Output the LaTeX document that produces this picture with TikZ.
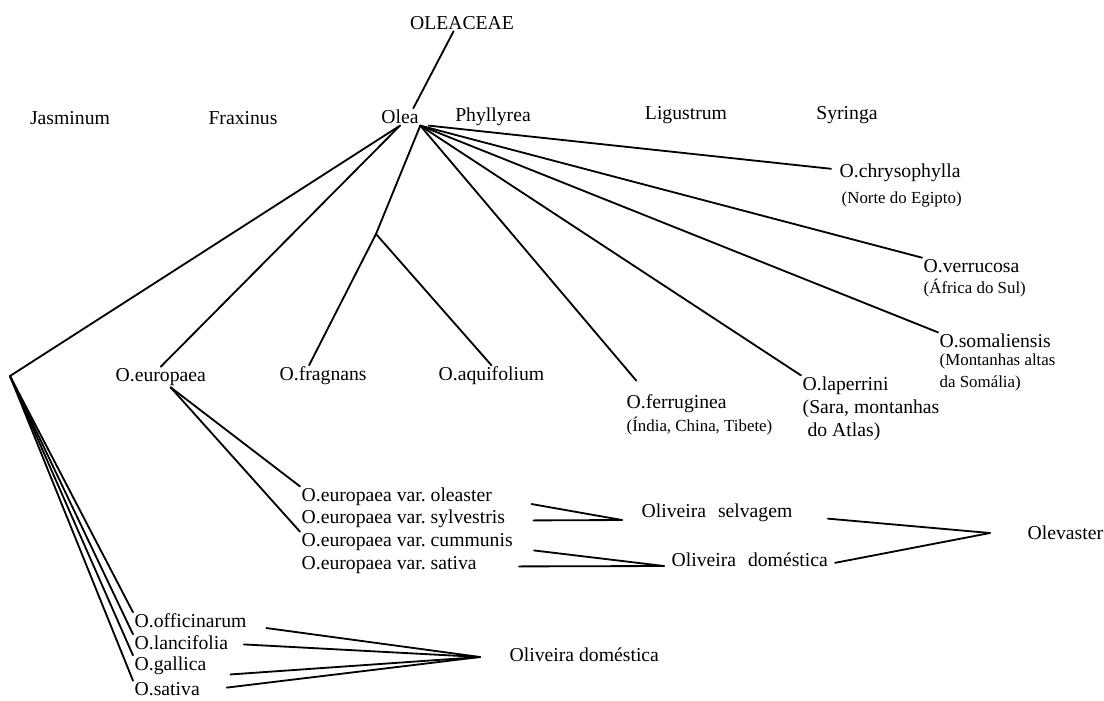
\documentclass[tikz,border=0pt]{standalone}
\usepackage{fontspec}
\setmainfont{Liberation Serif}
\usepackage{tikz}
\frenchspacing

\begin{document}
\begin{tikzpicture}[x=0.025cm, y=-0.025cm,
	taxon/.style={inner sep=1pt, font=\fontsize{14}{16.5}\selectfont, align=left},
	region/.style={inner sep=1pt, font=\fontsize{12}{15.5}\selectfont, align=left},
	branch/.style={line width=1.3pt, line cap=round}]
	
	\useasboundingbox (0, 0) rectangle (1104, 700);
	
	\node[taxon] (fam) at (462, 23)     {OLEACEAE};
	\node[taxon] (jas) at (70, 118)     {Jasminum};
	\node[taxon] (fra) at (243, 118)     {Fraxinus};
	\node[taxon] (ole) at (400, 117)     {Olea};
	\node[taxon] (phy) at (493, 117)     {Phyllyrea};
	\node[taxon] (lig) at (686, 115)     {Ligustrum};
	\node[taxon] (syr) at (847, 115)     {Syringa};
	
	\node[taxon, anchor=west] (chr) at (838, 173)     {O.chrysophylla};
	\node[region, anchor=west] (chrR) at (840, 199)     {(Norte do Egipto)};
	\node[taxon, anchor=west] (ver) at (922, 266)     {O.verrucosa};
	\node[region, anchor=west] (verR) at (922, 288)     {(África do Sul)};
	\node[taxon, anchor=west] (som) at (938, 341)     {O.somaliensis};
	\node[region, anchor=north west] (somR) at (938, 352)     {(Montanhas altas\\da Somália)};
	\node[taxon, anchor=west] (lap) at (801, 386)     {O.laperrini};
	\node[taxon, anchor=north west] (lapR) at (801, 398)     {(Sara, montanhas\\\hspace{0.25em}do Atlas)};
	\node[taxon, anchor=west] (fer) at (625, 404)     {O.ferruginea};
	\node[region, anchor=west] (ferR) at (625, 426)     {(Índia, China, Tibete)};
	
	\node[taxon, anchor=west] (eur) at (114, 377)     {O.europaea};
	\node[taxon, anchor=west] (fgn) at (278, 376)     {O.fragnans};
	\node[taxon, anchor=west] (aqu) at (437, 376)     {O.aquifolium};
	\coordinate (split) at (376, 234);
	\coordinate (root) at (10, 376);
	
	\node[taxon, anchor=west] (vOle) at (300, 497)     {O.europaea var. oleaster};
	\node[taxon, anchor=west] (vSyl) at (300, 519)     {O.europaea var. sylvestris};
	\node[taxon, anchor=west] (vCum) at (300, 542)     {O.europaea var. cummunis};
	\node[taxon, anchor=west] (vSat) at (300, 565)     {O.europaea var. sativa};
	\node[taxon, anchor=west] (sel) at (640, 513)     {Oliveira\hspace{0.6em}selvagem};
	\node[taxon, anchor=west] (dom) at (670, 560)     {Oliveira\hspace{0.6em}doméstica};
	\node[taxon, anchor=west] (olv) at (1026, 533)     {Olevaster};
	\coordinate (jSel) at (622, 520);
	\coordinate (jDom) at (664, 566);
	\coordinate (jOlv) at (990, 533);
	
	\node[taxon, anchor=west] (off) at (133, 621)     {O.officinarum};
	\node[taxon, anchor=west] (lan) at (133, 643)     {O.lancifolia};
	\node[taxon, anchor=west] (gal) at (133, 666)     {O.gallica};
	\node[taxon, anchor=west] (sat) at (133, 689)     {O.sativa};
	\node[taxon, anchor=west] (dom2) at (508, 655)     {Oliveira doméstica};
	\coordinate (jBot) at (480, 657);
	
	\path[branch] ([xshift=-6pt]fam.south) edge ([xshift=-5pt]ole.north east);
	\path[branch] (ole.south) edge (root);
	\path[branch] (ole.south) edge (eur.north);
	\path[branch] (ole.south east) edge (split);
	\path[branch] (split) edge ([xshift=-10pt]fgn.north);
	\path[branch] (split) edge (aqu.north);
	\path[branch] (ole.south east) edge ([xshift=8pt, yshift=9pt]fer.north west);
	\path[branch] (ole.south east) edge (lap.north west);
	\path[branch] (ole.south east) edge (som.north west);
	\path[branch] (ole.south east) edge (ver.north west);
	\path[branch] ([xshift=6pt]ole.south east) edge ([xshift=-5pt, yshift=3pt]chr.west);
	
	\path[branch] ([xshift=7pt]eur.south) edge (vOle.north west);
	\path[branch] ([xshift=7pt]eur.south) edge (vCum.north west);
	\path[branch] ([xshift=27pt, yshift=-5pt]vOle.east) edge (jSel);
	\path[branch] ([xshift=19pt, yshift=-1pt]vSyl.east) edge (jSel);
	\path[branch] ([xshift=14pt, yshift=-6pt]vCum.east) edge (jDom);
	\path[branch] ([xshift=29pt, yshift=-1pt]vSat.east) edge (jDom);
	\path[branch] ([xshift=24pt, yshift=-4pt]sel.east) edge (jOlv);
	\path[branch] ([xshift=4pt, yshift=-2pt]dom.east) edge (jOlv);
	
	\path[branch] (root) edge (off.north west);
	\path[branch] (root) edge (lan.north west);
	\path[branch] (root) edge (gal.north west);
	\path[branch] (root) edge (sat.north west);
	\path[branch] ([xshift=13pt, yshift=-5pt]off.east) edge (jBot);
	\path[branch] ([xshift=10pt, yshift=-1pt]lan.east) edge (jBot);
	\path[branch] ([xshift=16pt, yshift=-6pt]gal.east) edge (jBot);
	\path[branch] ([xshift=18pt, yshift=1pt]sat.east) edge (jBot);
	\end{tikzpicture}
\end{document}
